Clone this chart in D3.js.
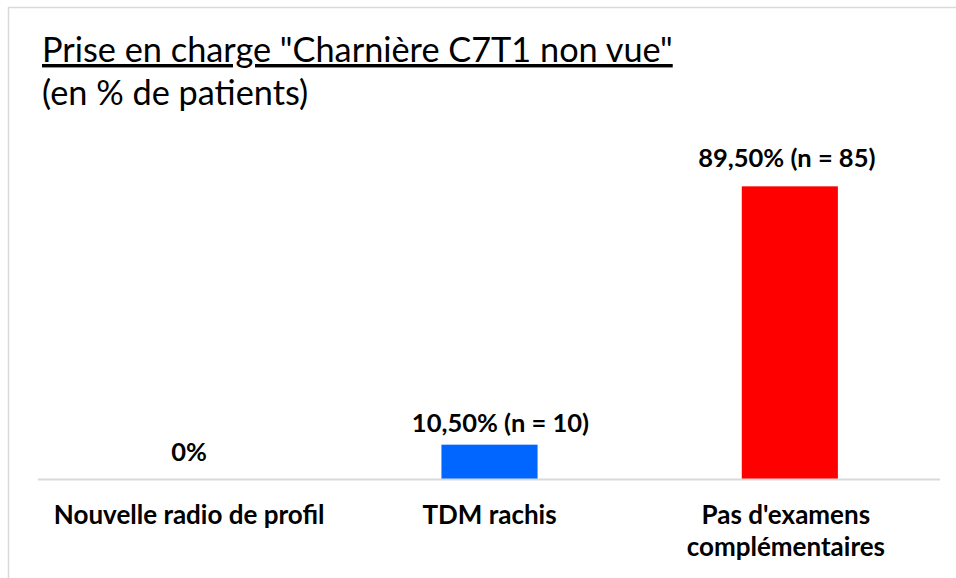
<!DOCTYPE html>
<html>
<head>
<meta charset="utf-8">
<script src="https://cdn.jsdelivr.net/npm/d3@7"></script>
<style>
  body { margin: 0; background: #fff; }
  text { font-family: Lato, "Open Sans", sans-serif; fill: #000; }
</style>
</head>
<body>
<div id="chart"></div>
<script>
// data
var categories = ["Nouvelle radio de profil", "TDM rachis", "Pas d'examens complémentaires"];
var values = [0, 10.5, 89.5];
var counts = [0, 10, 85];
var valueLabels = ["0%", "10,50% (n = 10)", "89,50% (n = 85)"];
var barColors = ["#0066ff", "#0066ff", "#ff0000"];

var W = 956, H = 578;
var margin = {top: 152, left: 39, right: 16, bottom: 99};

var svg = d3.select("#chart")
  .append("svg")
    .attr("width", W)
    .attr("height", H);

// chart frame
svg.append("rect")
    .attr("x", 8.5).attr("y", 7.5)
    .attr("width", W + 20).attr("height", H + 20)
    .attr("fill", "none")
    .attr("stroke", "#d9d9d9")
    .attr("stroke-width", 1.5);

// scales
var x = d3.scaleBand()
    .domain(categories)
    .range([margin.left, W - margin.right])
    .paddingInner(0.68)
    .paddingOuter(0.34);

var y = d3.scaleLinear()
    .domain([0, 100])
    .range([H - margin.bottom, H - margin.bottom - 327]);

var data = categories.map(function(c, i) {
  return {cat: c, value: values[i], n: counts[i], label: valueLabels[i], color: barColors[i]};
});

// bars
svg.selectAll("rect.bar")
  .data(data)
  .enter()
  .append("rect")
    .attr("class", "bar")
    .attr("x", function(d) { return x(d.cat); })
    .attr("y", function(d) { return y(d.value); })
    .attr("width", x.bandwidth())
    .attr("height", function(d) { return y(0) - y(d.value); })
    .attr("fill", function(d) { return d.color; });

// baseline
svg.append("line")
    .attr("x1", margin.left - 1).attr("x2", W - margin.right)
    .attr("y1", y(0) + 0.5).attr("y2", y(0) + 0.5)
    .attr("stroke", "#d9d9d9")
    .attr("stroke-width", 2);

// value labels (excel nudges them a bit)
var labelShift = [0, 11, -3];
var labelGap = [18, 13, 19];
svg.selectAll("text.val")
  .data(data)
  .enter()
  .append("text")
    .attr("class", "val")
    .attr("x", function(d, i) { return x(d.cat) + x.bandwidth() / 2 + labelShift[i]; })
    .attr("y", function(d, i) { return y(d.value) - labelGap[i]; })
    .attr("text-anchor", "middle")
    .attr("font-size", "25.5px")
    .attr("font-weight", "bold")
    .text(function(d) { return d.label; });

// category labels, wrapped like excel
var wrapped = {"Pas d'examens complémentaires": ["Pas d'examens", "complémentaires"]};
var catLabels = svg.selectAll("text.cat")
  .data(data)
  .enter()
  .append("text")
    .attr("class", "cat")
    .attr("x", function(d, i) { return x(d.cat) + x.bandwidth() / 2 - (i == 2 ? 4 : 0); })
    .attr("y", y(0) + 45)
    .attr("text-anchor", "middle")
    .attr("font-size", "26px")
    .attr("font-weight", "bold");

catLabels.each(function(d) {
  var lines = wrapped[d.cat] || [d.cat];
  var t = d3.select(this);
  var xx = t.attr("x");
  lines.forEach(function(l, k) {
    t.append("tspan").attr("x", xx).attr("dy", k == 0 ? 0 : 32).text(l);
  });
});

// title
svg.append("text")
    .attr("x", 42)
    .attr("y", 62)
    .attr("font-size", "34.3px")
    .attr("text-decoration", "underline")
    .text("Prise en charge \"Charnière C7T1 non vue\"");

svg.append("text")
    .attr("x", 42)
    .attr("y", 105)
    .attr("font-size", "34.3px")
    .text("(en % de patients)");
</script>
</body>
</html>
